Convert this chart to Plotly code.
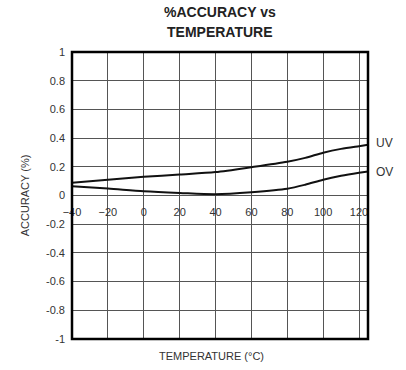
import plotly.graph_objects as go

# Accuracy (%) vs temperature for the UV and OV thresholds
temperature_c = [-40, -20, 0, 20, 40, 60, 80, 90, 100, 110, 120, 125]
uv_accuracy = [0.089, 0.11, 0.13, 0.146, 0.163, 0.197, 0.235, 0.262, 0.298, 0.325, 0.344, 0.353]
ov_accuracy = [0.065, 0.049, 0.03, 0.018, 0.009, 0.023, 0.047, 0.075, 0.11, 0.137, 0.158, 0.167]

x_ticks = [-40, -20, 0, 20, 40, 60, 80, 100, 120]
y_ticks = [-1, -0.8, -0.6, -0.4, -0.2, 0, 0.2, 0.4, 0.6, 0.8, 1]
y_tick_text = ["-1", "-0.8", "-0.6", "-0.4", "-0.2", "0", "0.2", "0.4", "0.6", "0.8", "1"]
title_lines = ["%ACCURACY vs", "TEMPERATURE"]

FONT = "Liberation Sans, Arial, sans-serif"
GRID = "#555555"
TEXT = "#333333"

fig = go.Figure()
annotations = []
for name, values, nudge in (("UV", uv_accuracy, 0.01), ("OV", ov_accuracy, -0.003)):
    fig.add_trace(go.Scatter(
        x=temperature_c, y=values, mode="lines", name=name,
        line=dict(color="#111111", width=2, shape="spline", smoothing=0.8),
        showlegend=False, cliponaxis=False,
    ))
    # curve label just right of the plot frame
    annotations.append(dict(
        x=1.0, xref="paper", y=values[-1] + nudge, yref="y",
        text=name, showarrow=False, xanchor="left", xshift=6,
        font=dict(family=FONT, size=12, color=TEXT),
    ))

# two-line bold heading above the frame
for i, line in enumerate(title_lines):
    annotations.append(dict(
        x=0.5, xref="paper", y=1.0, yref="paper", yanchor="middle",
        yshift=40 - 20 * i, text=f"<b>{line}</b>", showarrow=False,
        font=dict(family=FONT, size=14, color="#222222"),
    ))

annotations.append(dict(
    x=0.47, xref="paper", y=0, yref="paper", yanchor="middle", yshift=-17,
    text="TEMPERATURE (°C)", showarrow=False,
    font=dict(family=FONT, size=11, color=TEXT),
))

fig.update_layout(
    width=406, height=370,
    margin=dict(l=72, r=38, t=52, b=31),
    paper_bgcolor="white", plot_bgcolor="white",
    font=dict(family=FONT, size=11, color=TEXT),
    xaxis=dict(
        range=[-40, 125], anchor="free", position=0.5,
        tickvals=x_ticks, ticks="outside", ticklen=6, tickcolor="rgba(0,0,0,0)",
        showgrid=True, gridcolor=GRID, gridwidth=1,
        showline=False, zeroline=False,
        tickfont=dict(family=FONT, size=11, color=TEXT),
    ),
    yaxis=dict(
        range=[-1, 1], tickvals=y_ticks, ticktext=y_tick_text,
        showgrid=True, gridcolor=GRID, gridwidth=1,
        showline=False, zeroline=False, ticks="", ticklabelstandoff=6,
        tickfont=dict(family=FONT, size=11, color=TEXT),
        title=dict(text="ACCURACY (%)", standoff=14,
                   font=dict(family=FONT, size=11, color=TEXT)),
    ),
    shapes=[dict(type="rect", xref="paper", yref="paper", x0=0, x1=1, y0=0, y1=1,
                 line=dict(color="black", width=2.5), layer="above")],
    annotations=annotations,
)

fig.write_html("out.html")
